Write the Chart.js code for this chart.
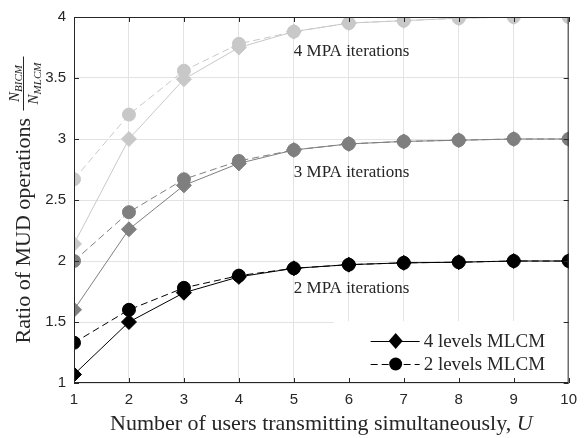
<!DOCTYPE html>
<html>
<head>
<meta charset="utf-8">
<script src="https://cdn.jsdelivr.net/npm/chart.js@4/dist/chart.umd.min.js"></script>
<style>
html, body { margin: 0; padding: 0; background: #fff; }
#wrap { width: 585px; height: 438px; }
</style>
</head>
<body>
<div id="wrap"><canvas id="myChart"></canvas></div>
<script>
// data
var users = [1, 2, 3, 4, 5, 6, 7, 8, 9, 10];
var yTicks = [1, 1.5, 2, 2.5, 3, 3.5, 4];
var mpa2Levels4 = [1.07, 1.5, 1.74, 1.87, 1.94, 1.97, 1.985, 1.99, 2.0, 2.0];
var mpa2Levels2 = [1.33, 1.6, 1.78, 1.88, 1.94, 1.97, 1.985, 1.99, 2.0, 2.0];
var mpa3Levels4 = [1.6, 2.26, 2.62, 2.8, 2.91, 2.96, 2.98, 2.99, 3.0, 3.0];
var mpa3Levels2 = [2.0, 2.4, 2.67, 2.82, 2.91, 2.96, 2.98, 2.99, 3.0, 3.0];
var mpa4Levels4 = [2.14, 3.0, 3.49, 3.75, 3.88, 3.95, 3.97, 3.99, 4.0, 4.0];
var mpa4Levels2 = [2.67, 3.2, 3.56, 3.78, 3.88, 3.95, 3.97, 3.99, 4.0, 4.0];
var iterLabels = ['4 MPA iterations', '3 MPA iterations', '2 MPA iterations'];
var iterLabelY = [3.72, 2.725, 1.775];
var iterLabelX = 5;
var legendLabels = ['4 levels MLCM', '2 levels MLCM'];

var black = '#000000';
var mid = '#7f7f7f';
var light = '#c8c8c8';
var serif = "'Liberation Serif', 'Times New Roman', serif";

function pts(arr) {
    return users.map(function (u, i) { return { x: u, y: arr[i] }; });
}

function solid(arr, color) {
    return {
        data: pts(arr), borderColor: color, backgroundColor: color,
        borderWidth: 1, pointStyle: 'rectRot', pointRadius: 7.5,
        pointBorderWidth: 1, pointBorderColor: color, pointBackgroundColor: color
    };
}

function dashed(arr, color) {
    return {
        data: pts(arr), borderColor: color, backgroundColor: color,
        borderWidth: 1, borderDash: [7, 4], pointStyle: 'circle', pointRadius: 6.5,
        pointBorderWidth: 1, pointBorderColor: color, pointBackgroundColor: color
    };
}

var extras = {
    id: 'extras',
    afterDraw: function (chart) {
        var ctx = chart.ctx;
        var a = chart.chartArea;
        var xs = chart.scales.x, ys = chart.scales.y;
        ctx.save();

        // text next to each group of curves
        ctx.fillStyle = '#262626';
        ctx.font = '17px ' + serif;
        ctx.textAlign = 'left';
        ctx.textBaseline = 'middle';
        iterLabels.forEach(function (t, i) {
            ctx.fillText(t, xs.getPixelForValue(iterLabelX), ys.getPixelForValue(iterLabelY[i]));
        });

        // legend box
        var bx = a.right - 235, by = a.bottom - 62;
        ctx.fillStyle = '#fff';
        ctx.fillRect(bx, by, a.right - bx, a.bottom - by);
        var rows = [by + 20, by + 43];
        for (var r = 0; r < 2; r++) {
            var yy = rows[r];
            ctx.strokeStyle = black;
            ctx.lineWidth = 1;
            ctx.setLineDash(r === 0 ? [] : [7, 4]);
            ctx.beginPath();
            ctx.moveTo(bx + 37, yy + 0.5);
            ctx.lineTo(bx + 86, yy + 0.5);
            ctx.stroke();
            ctx.setLineDash([]);
            ctx.fillStyle = black;
            ctx.beginPath();
            if (r === 0) {
                ctx.moveTo(bx + 62, yy - 8);
                ctx.lineTo(bx + 69, yy);
                ctx.lineTo(bx + 62, yy + 8);
                ctx.lineTo(bx + 55, yy);
                ctx.closePath();
            } else {
                ctx.arc(bx + 62, yy, 6.5, 0, Math.PI * 2);
            }
            ctx.fill();
            ctx.fillStyle = '#262626';
            ctx.font = '19px ' + serif;
            ctx.textAlign = 'left';
            ctx.textBaseline = 'middle';
            ctx.fillText(legendLabels[r], bx + 90, yy + 1);
        }

        // axes box with inward ticks
        ctx.strokeStyle = '#262626';
        ctx.lineWidth = 1;
        ctx.strokeRect(a.left + 0.5, a.top + 0.5, a.right - a.left - 1, a.bottom - a.top - 1);
        ctx.beginPath();
        users.forEach(function (u) {
            var px = Math.round(xs.getPixelForValue(u)) + 0.5;
            ctx.moveTo(px, a.bottom); ctx.lineTo(px, a.bottom - 5);
            ctx.moveTo(px, a.top); ctx.lineTo(px, a.top + 5);
        });
        yTicks.forEach(function (v) {
            var py = Math.round(ys.getPixelForValue(v)) + 0.5;
            ctx.moveTo(a.left, py); ctx.lineTo(a.left + 5, py);
            ctx.moveTo(a.right, py); ctx.lineTo(a.right - 5, py);
        });
        ctx.stroke();

        // x axis title
        ctx.fillStyle = '#262626';
        ctx.textBaseline = 'alphabetic';
        ctx.textAlign = 'left';
        var t1 = 'Number of users transmitting simultaneously, ';
        ctx.font = '22px ' + serif;
        var w1 = ctx.measureText(t1).width;
        ctx.font = 'italic 22px ' + serif;
        var w2 = ctx.measureText('U').width;
        var cx = (a.left + a.right) / 2;
        var sx = cx - (w1 + w2) / 2;
        ctx.font = '22px ' + serif;
        ctx.fillText(t1, sx, 430);
        ctx.font = 'italic 22px ' + serif;
        ctx.fillText('U', sx + w1, 430);

        // y axis title with fraction
        ctx.translate(30, (a.top + a.bottom) / 2);
        ctx.rotate(-Math.PI / 2);
        var t0 = 'Ratio of MUD operations ';
        ctx.font = '22px ' + serif;
        var w0 = ctx.measureText(t0).width;
        var fw = 56;
        var fx = -(w0 + fw) / 2;
        ctx.fillText(t0, fx, 0);
        var fl = fx + w0 + 2;
        ctx.fillRect(fl, -7, fw - 2, 1);
        function frac(sub, yb) {
            ctx.font = 'italic 15px ' + serif;
            var nw = ctx.measureText('N').width;
            ctx.font = 'italic 11px ' + serif;
            var sw = ctx.measureText(sub).width;
            var start = fl + (fw - 2 - nw - sw) / 2;
            ctx.font = 'italic 15px ' + serif;
            ctx.fillText('N', start, yb);
            ctx.font = 'italic 11px ' + serif;
            ctx.fillText(sub, start + nw, yb + 3);
        }
        frac('BICM', -11);
        frac('MLCM', 8);
        ctx.restore();
    }
};

var ctx = document.getElementById('myChart').getContext('2d');
var myChart = new Chart(ctx, {
    type: 'line',
    data: {
        datasets: [
            dashed(mpa2Levels2, black),
            solid(mpa2Levels4, black),
            dashed(mpa3Levels2, mid),
            solid(mpa3Levels4, mid),
            dashed(mpa4Levels2, light),
            solid(mpa4Levels4, light)
        ]
    },
    options: {
        responsive: true,
        maintainAspectRatio: false,
        animation: false,
        layout: { padding: { top: 7, right: 10, left: 0, bottom: 0 } },
        plugins: { legend: { display: false }, tooltip: { enabled: false } },
        scales: {
            x: {
                type: 'linear', min: 1, max: 10,
                border: { display: false },
                grid: { color: '#e3e3e3', drawTicks: false },
                ticks: {
                    stepSize: 1, padding: 8, color: '#262626',
                    font: { family: "'Liberation Sans', Arial, sans-serif", size: 15 },
                    callback: function (v) { return String(v); }
                },
                afterFit: function (s) { s.height = 55; }
            },
            y: {
                type: 'linear', min: 1, max: 4,
                border: { display: false },
                grid: { color: '#e3e3e3', drawTicks: false },
                afterBuildTicks: function (s) { s.ticks = yTicks.map(function (v) { return { value: v }; }); },
                ticks: {
                    padding: 8, color: '#262626',
                    font: { family: "'Liberation Sans', Arial, sans-serif", size: 15 },
                    callback: function (v) { return String(v); }
                },
                afterFit: function (s) { s.width = 74; }
            }
        }
    },
    plugins: [extras]
});
</script>
</body>
</html>
